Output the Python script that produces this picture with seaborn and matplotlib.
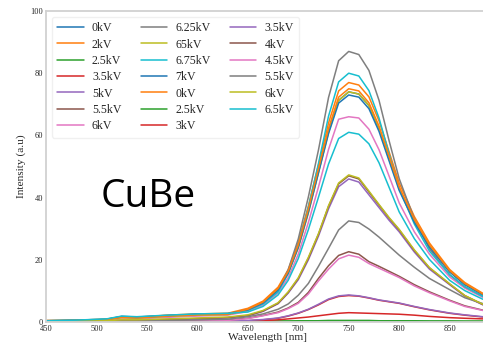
import matplotlib
matplotlib.use("Agg")
import matplotlib.pyplot as plt
import seaborn as sns

# --- data ---
wavelength = [450, 480, 510, 525, 540, 570, 600, 630, 650, 665, 680, 690, 700, 710,
              720, 730, 740, 750, 760, 770, 780, 790, 800, 815, 830, 850, 865, 883]

labels = ["0kV", "2kV", "2.5kV", "3.5kV", "5kV", "5.5kV", "6kV",
          "6.25kV", "65kV", "6.75kV", "7kV", "0kV", "2.5kV", "3kV",
          "3.5kV", "4kV", "4.5kV", "5.5kV", "6kV", "6.5kV"]

s_0kV_a = [0.4, 0.6, 0.9, 1.8, 1.6, 2.1, 2.5, 2.7, 4.0, 6.3, 10.6, 16.1, 24.4, 35.8,
           48.6, 61.5, 71.3, 74.0, 73.3, 69.6, 62.2, 52.5, 42.9, 32.6, 24.4, 16.3, 12.2, 8.9]
s_2kV = [0.5, 0.6, 0.9, 1.7, 1.5, 2.2, 2.6, 2.8, 4.4, 6.7, 11.2, 16.8, 25.6, 37.2,
         50.5, 64.0, 74.3, 77.0, 76.2, 72.4, 64.7, 54.7, 44.7, 33.9, 25.4, 16.9, 12.7, 9.2]
s_25kV_a = [0.1, 0.1, 0.1, 0.2, 0.2, 0.2, 0.2, 0.3, 0.3, 0.3, 0.3, 0.3, 0.4, 0.4,
            0.4, 0.5, 0.5, 0.5, 0.5, 0.5, 0.4, 0.4, 0.4, 0.4, 0.3, 0.3, 0.3, 0.3]
s_35kV_a = [0.0, 0.0, 0.0, 0.1, 0.1, 0.1, 0.2, 0.3, 0.4, 0.7, 1.2, 1.9, 2.8, 4.0,
            5.5, 7.2, 8.2, 8.5, 8.3, 7.7, 7.0, 6.5, 6.0, 4.9, 3.9, 2.8, 2.2, 1.6]
s_5kV = [0.2, 0.2, 0.3, 0.5, 0.5, 0.7, 1.0, 1.3, 2.0, 3.4, 5.9, 9.3, 13.6, 20.0,
         27.6, 36.4, 43.5, 46.0, 45.0, 40.9, 36.8, 32.7, 29.0, 22.5, 17.0, 12.0, 8.3, 5.5]
s_55kV_a = [0.0, 0.1, 0.1, 0.2, 0.2, 0.3, 0.4, 0.6, 1.2, 2.1, 3.2, 4.5, 6.3, 9.5,
            14.0, 18.1, 21.4, 22.6, 21.8, 19.4, 17.9, 16.3, 14.7, 12.0, 9.7, 7.0, 5.2, 3.8]
s_6kV_a = [0.2, 0.3, 0.5, 1.0, 1.0, 1.5, 1.9, 2.2, 3.4, 5.4, 9.3, 14.3, 21.8, 32.0,
           43.4, 55.5, 65.2, 66.0, 65.6, 62.0, 55.4, 46.9, 38.3, 29.0, 21.8, 14.5, 10.9, 7.9]
s_625kV = [0.4, 0.5, 0.8, 1.6, 1.4, 2.0, 2.4, 2.6, 3.9, 6.0, 10.3, 16.8, 26.7, 40.2,
           55.3, 72.2, 84.0, 87.0, 86.0, 80.9, 71.3, 58.3, 46.1, 33.1, 23.5, 15.2, 11.3, 8.3]
s_65kV_x = [0.3, 0.4, 0.7, 1.4, 1.3, 1.8, 2.2, 2.4, 3.8, 6.0, 10.2, 15.6, 23.8, 35.0,
            48.0, 61.0, 71.2, 74.0, 73.3, 69.6, 62.2, 52.5, 42.9, 32.6, 24.4, 16.3, 12.2, 8.9]
s_675kV = [0.4, 0.5, 0.8, 1.6, 1.4, 2.0, 2.4, 2.6, 3.8, 5.8, 9.7, 15.6, 24.7, 37.0,
           50.9, 66.2, 77.2, 80.0, 79.1, 74.4, 65.6, 54.0, 43.0, 31.5, 22.8, 15.2, 11.4, 8.2]
s_7kV = [0.3, 0.5, 0.8, 1.7, 1.5, 2.0, 2.5, 2.6, 3.9, 6.1, 10.3, 15.8, 24.0, 35.3,
         47.9, 60.6, 70.4, 73.0, 72.3, 68.6, 61.3, 51.8, 42.3, 32.1, 24.1, 16.1, 12.0, 8.8]
s_0kV_b = [0.3, 0.5, 0.7, 1.5, 1.3, 1.9, 2.3, 2.5, 4.1, 6.4, 10.8, 16.3, 24.8, 36.3,
           49.3, 62.3, 72.3, 75.0, 74.3, 70.5, 63.0, 53.3, 43.5, 33.0, 24.8, 16.5, 12.4, 9.0]
s_25kV_b = [0.1, 0.1, 0.1, 0.1, 0.2, 0.2, 0.2, 0.2, 0.2, 0.3, 0.3, 0.3, 0.3, 0.3,
            0.4, 0.4, 0.4, 0.4, 0.4, 0.4, 0.4, 0.3, 0.3, 0.3, 0.3, 0.3, 0.2, 0.2]
s_3kV = [0.0, 0.0, 0.0, 0.0, 0.0, 0.0, 0.1, 0.1, 0.2, 0.4, 0.7, 1.0, 1.3, 1.6,
         2.0, 2.4, 2.8, 3.0, 2.9, 2.8, 2.7, 2.6, 2.5, 2.2, 1.8, 1.4, 1.2, 1.0]
s_35kV_b = [0.0, 0.0, 0.0, 0.1, 0.1, 0.1, 0.2, 0.3, 0.5, 0.8, 1.3, 2.0, 2.9, 4.1,
            5.7, 7.4, 8.4, 8.7, 8.4, 7.8, 7.1, 6.6, 6.1, 5.0, 4.0, 2.9, 2.3, 1.7]
s_4kV = [0.1, 0.2, 0.3, 0.5, 0.5, 0.8, 1.1, 1.4, 2.1, 3.5, 6.0, 9.5, 14.0, 20.5,
         28.2, 37.2, 44.4, 47.0, 46.0, 41.8, 37.6, 33.4, 29.6, 23.0, 17.4, 12.2, 8.5, 5.6]
s_45kV = [0.0, 0.0, 0.1, 0.1, 0.1, 0.2, 0.3, 0.5, 1.1, 2.0, 3.0, 4.3, 6.0, 9.0,
          13.2, 17.0, 20.3, 21.5, 20.8, 18.8, 17.3, 15.8, 14.3, 11.6, 9.4, 6.8, 5.0, 3.7]
s_55kV_b = [0.1, 0.1, 0.2, 0.3, 0.3, 0.5, 0.7, 0.9, 1.7, 2.6, 4.1, 5.8, 8.6, 12.4,
            17.9, 23.7, 29.6, 32.5, 32.0, 29.9, 27.3, 24.4, 21.5, 17.6, 14.0, 10.4, 7.8, 5.9]
s_6kV_b = [0.2, 0.3, 0.4, 0.7, 0.7, 1.0, 1.3, 1.6, 2.3, 3.7, 6.2, 9.7, 14.2, 20.8,
           28.4, 37.4, 44.7, 47.3, 46.3, 42.1, 37.8, 33.6, 29.8, 23.2, 17.5, 12.3, 8.5, 5.7]
s_65kV = [0.4, 0.6, 1.0, 1.9, 1.7, 2.2, 2.6, 2.8, 3.2, 5.0, 8.7, 13.4, 20.4, 29.7,
          40.1, 50.8, 59.0, 61.0, 60.4, 57.3, 51.2, 43.3, 35.4, 26.8, 20.1, 13.4, 10.1, 7.3]

series = [s_0kV_a, s_2kV, s_25kV_a, s_35kV_a, s_5kV, s_55kV_a, s_6kV_a,
          s_625kV, s_65kV_x, s_675kV, s_7kV, s_0kV_b, s_25kV_b, s_3kV,
          s_35kV_b, s_4kV, s_45kV, s_55kV_b, s_6kV_b, s_65kV]

# --- style ---
sns.set_theme(style="white", rc={"axes.edgecolor": "0.82", "axes.linewidth": 1.3})
plt.rcParams["font.family"] = ["Liberation Serif", "DejaVu Serif"]

fig = plt.figure(figsize=(4.83, 3.46), dpi=100)
ax = fig.add_axes([46 / 483, 24 / 346, 444 / 483, 311 / 346])

palette = sns.color_palette("tab10", 10)
for i, (lab, vals) in enumerate(zip(labels, series)):
    sns.lineplot(x=wavelength, y=vals, label=lab, color=palette[i % 10],
                 linewidth=1.1, ax=ax)

ax.set_xlim(450, 890)
ax.set_ylim(0, 100)
ax.set_xticks([450, 500, 550, 600, 650, 700, 750, 800, 850])
ax.set_yticks([0, 20, 40, 60, 80, 100])
ax.tick_params(labelsize=6, length=0)
ax.tick_params(axis="x", pad=2)
ax.tick_params(axis="y", pad=2)
ax.set_xlabel("Wavelength [nm]", fontsize=8.2, labelpad=0)
ax.set_ylabel("Intensity (a.u)", fontsize=8.2, labelpad=3)
ax.spines["right"].set_visible(False)

ax.legend(ncol=3, loc="upper left", fontsize=8.6, frameon=True,
          handlelength=2.2, handletextpad=0.7, columnspacing=1.6,
          labelspacing=0.36, borderpad=0.45, edgecolor="0.93")

fig.text(101 / 483, 1 - 207 / 346, "CuBe", fontsize=28,
         family=["Open Sans", "DejaVu Sans"], va="baseline", color="black")

fig.savefig("out.png", dpi=100)
